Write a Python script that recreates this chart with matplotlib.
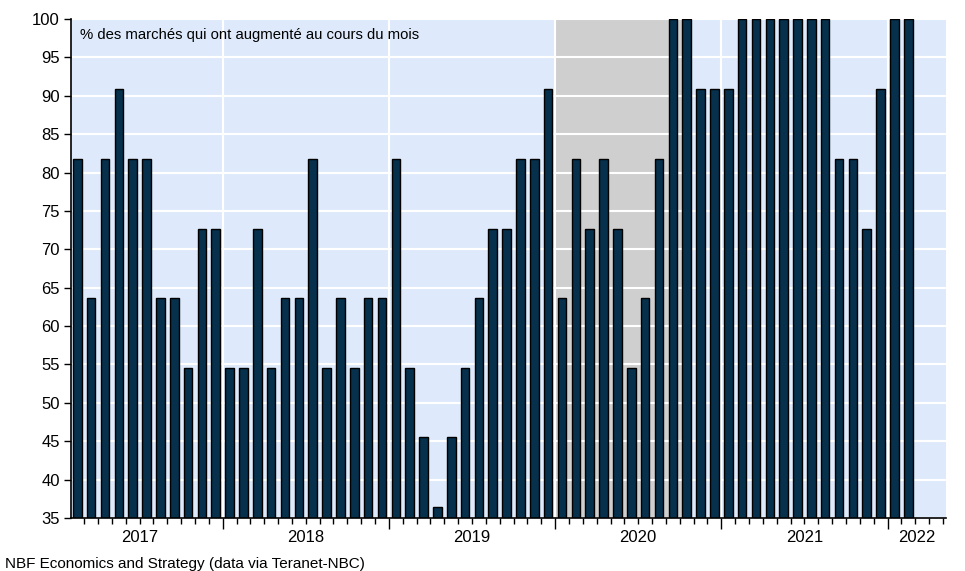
import numpy as np
import matplotlib
matplotlib.use("Agg")
import matplotlib.pyplot as plt
from matplotlib.ticker import MultipleLocator
import matplotlib.transforms as mtransforms

plt.rcParams['font.family'] = ['Liberation Sans', 'DejaVu Sans']

# monthly share of markets (out of 11) with a price increase, Feb 2017 - Feb 2022
first_month = 1  # months since Jan 2017 (Feb 2017)
pct_up = [
    81.8, 63.6, 81.8, 90.9, 81.8, 81.8, 63.6, 63.6, 54.5, 72.7, 72.7,             # 2017
    54.5, 54.5, 72.7, 54.5, 63.6, 63.6, 81.8, 54.5, 63.6, 54.5, 63.6, 63.6,       # 2018
    81.8, 54.5, 45.5, 36.4, 45.5, 54.5, 63.6, 72.7, 72.7, 81.8, 81.8, 90.9,       # 2019
    63.6, 81.8, 72.7, 81.8, 72.7, 54.5, 63.6, 81.8, 100.0, 100.0, 90.9, 90.9,     # 2020
    90.9, 100.0, 100.0, 100.0, 100.0, 100.0, 100.0, 100.0, 81.8, 81.8, 72.7, 90.9,  # 2021
    100.0, 100.0,                                                                 # 2022
]
years = ['2017', '2018', '2019', '2020', '2021', '2022']
shade_start, shade_end = 36, 45.8   # shaded period (months since Jan 2017)

x = first_month + np.arange(len(pct_up)) + 0.5

fig = plt.figure(figsize=(9.65, 5.71), dpi=100)
ax = fig.add_axes([0.0736, 0.0928, 0.9064, 0.8739])
ax.set_facecolor('#DEEAFB')

ax.axvspan(shade_start, shade_end, color='#CFCFCF', zorder=0.2, lw=0)
ax.bar(x, pct_up, width=0.62, color='#06304B', edgecolor='black', linewidth=1.0, zorder=2)

ax.set_xlim(1.05, 64.2)
ax.set_ylim(35, 100)
ax.yaxis.set_major_locator(MultipleLocator(5))
ax.xaxis.set_major_locator(MultipleLocator(12))
ax.xaxis.set_minor_locator(MultipleLocator(1))
ax.set_xticklabels([])
ax.tick_params(axis='x', which='major', length=8, width=1, direction='out')
ax.tick_params(axis='x', which='minor', length=4, width=1, direction='out')
ax.tick_params(axis='y', length=5, width=1, labelsize=12, pad=3)

ax.set_axisbelow(True)
ax.grid(True, which='major', color='white', linewidth=1.5)

for side in ['top', 'right']:
    ax.spines[side].set_visible(False)
ax.spines['left'].set_linewidth(1.2)
ax.spines['bottom'].set_linewidth(1.2)

# year labels centred in each year (last one in its visible part)
trans = mtransforms.blended_transform_factory(ax.transData, ax.transAxes)
centers = [6, 18, 30, 42, 54, 62.1]
for c, yr in zip(centers, years):
    ax.text(c, -0.024, yr, transform=trans, ha='center', va='top', fontsize=12)

ax.text(0.01, 0.982, '% des marchés qui ont augmenté au cours du mois',
        transform=ax.transAxes, ha='left', va='top', fontsize=10.7)

fig.text(0.005, 0.0, 'NBF Economics and Strategy (data via Teranet-NBC)',
         ha='left', va='bottom', fontsize=11)

fig.savefig('out.png', dpi=100)
